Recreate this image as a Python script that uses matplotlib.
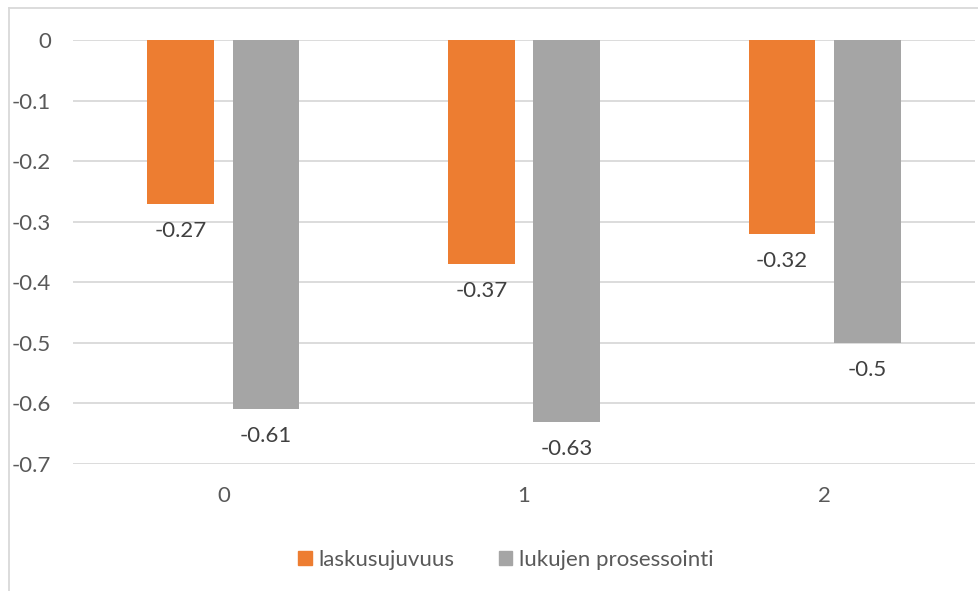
import matplotlib
matplotlib.use("Agg")
import matplotlib.pyplot as plt
from matplotlib.lines import Line2D
import numpy as np

plt.rcParams['font.family'] = ['Lato', 'DejaVu Sans']

categories = ["0", "1", "2"]
laskusujuvuus = [-0.27, -0.37, -0.32]
lukujen_prosessointi = [-0.61, -0.63, -0.5]
series_names = ["laskusujuvuus", "lukujen prosessointi"]
yticks = [0, -0.1, -0.2, -0.3, -0.4, -0.5, -0.6, -0.7]

orange = "#ED7D31"
gray = "#A5A5A5"
text_col = "#595959"
grid_col = "#D9D9D9"
fs = 16

W, H = 979, 591
fig = plt.figure(figsize=(W / 100, H / 100), dpi=100)
ax = fig.add_axes([73 / W, 1 - 464 / H, (975 - 73) / W, (464 - 40) / H])

x = np.arange(len(categories))
bw = 0.221
off = (bw + 0.063) / 2
b1 = ax.bar(x - off, laskusujuvuus, bw, color=orange, zorder=3)
b2 = ax.bar(x + off, lukujen_prosessointi, bw, color=gray, zorder=3)

for bars, vals in ((b1, laskusujuvuus), (b2, lukujen_prosessointi)):
    for rect, v in zip(bars, vals):
        ax.annotate(f"{v:g}", (rect.get_x() + rect.get_width() / 2, v),
                    xytext=(0, -27), textcoords="offset pixels",
                    ha="center", va="center", fontsize=fs, color="#404040")

ax.set_xlim(-0.5, 2.5)
ax.set_ylim(-0.7, 0)
ax.set_yticks(yticks)
ax.set_yticklabels([f"{t:g}" for t in yticks])
ax.set_xticks(x)
ax.set_xticklabels(categories)
ax.grid(axis="y", color=grid_col, linewidth=1.3, zorder=0)
ax.tick_params(axis="both", length=0, labelsize=fs, colors=text_col)
ax.tick_params(axis="y", pad=16)
ax.tick_params(axis="x", pad=16)
for s in ax.spines.values():
    s.set_visible(False)

# outer chart frame
fig.add_artist(Line2D([9 / W, 9 / W], [0, 1 - 8 / H], transform=fig.transFigure,
                      color=grid_col, linewidth=1.3))
fig.add_artist(Line2D([9 / W, 1], [1 - 8 / H, 1 - 8 / H], transform=fig.transFigure,
                      color=grid_col, linewidth=1.3))

handles = [plt.Rectangle((0, 0), 1, 1, color=orange), plt.Rectangle((0, 0), 1, 1, color=gray)]
fig.legend(handles, series_names, loc="center", bbox_to_anchor=(506 / W, 1 - 560 / H),
           ncol=2, frameon=False, fontsize=fs, labelcolor=text_col,
           handlelength=0.6, handleheight=0.6, handletextpad=0.3, columnspacing=2.0)

fig.savefig("out.png", dpi=100)
